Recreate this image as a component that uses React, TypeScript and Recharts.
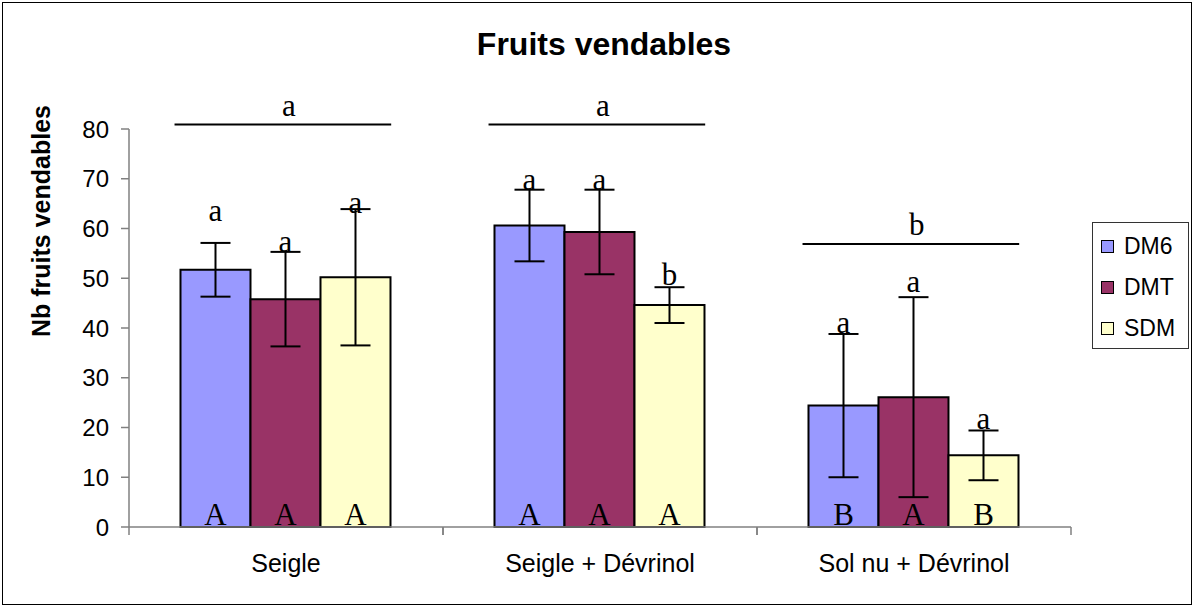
import { BarChart, Bar, ErrorBar, LabelList, ReferenceArea, XAxis, YAxis } from "recharts"

const categories = ["Seigle", "Seigle + Dévrinol", "Sol nu + Dévrinol"]
const seriesNames = ["DM6", "DMT", "SDM"]

const dm6 = [51.7, 60.6, 24.4]
const dm6Err = [5.4, 7.2, 14.4]
const dmt = [45.8, 59.3, 26.1]
const dmtErr = [9.5, 8.5, 20.1]
const sdm = [50.2, 44.6, 14.4]
const sdmErr = [13.7, 3.6, 5.0]

// letters above each bar, and the level (y units) where they sit
const dm6Letters = ["a", "a", "a"]
const dmtLetters = ["a", "a", "a"]
const sdmLetters = ["a", "b", "a"]
const dm6LetterAt = [61.6, 67.8, 39.0]
const dmtLetterAt = [55.3, 67.8, 47.2]
const sdmLetterAt = [63.2, 48.7, 19.6]

// letters at the foot of each bar
const dm6Ranks = ["A", "A", "B"]
const dmtRanks = ["A", "A", "A"]
const sdmRanks = ["A", "A", "B"]

// letter over each group of bars, and the level of its line
const groupLetters = ["a", "a", "b"]
const groupLevels = [80.9, 80.9, 56.9]

const yTicks = [0, 10, 20, 30, 40, 50, 60, 70, 80]

const Y_MAX = 80
const W = 1194
const H = 607
const TOP = 129
const BOTTOM = 80
const LEFT = 129
const RIGHT = 123
const PLOT_H = H - TOP - BOTTOM

const sans = "'Liberation Sans', Arial, sans-serif"
const serif = "'Liberation Serif', 'Times New Roman', serif"

const rows = categories.map((name, i) => ({
  name,
  DM6: dm6[i],
  DM6err: dm6Err[i],
  DMT: dmt[i],
  DMTerr: dmtErr[i],
  SDM: sdm[i],
  SDMerr: sdmErr[i],
}))

const series = [
  { key: "DM6", color: "#9999FF", letters: dm6Letters, letterAt: dm6LetterAt, ranks: dm6Ranks },
  { key: "DMT", color: "#993366", letters: dmtLetters, letterAt: dmtLetterAt, ranks: dmtRanks },
  { key: "SDM", color: "#FFFFCC", letters: sdmLetters, letterAt: sdmLetterAt, ranks: sdmRanks },
]

const ppu = PLOT_H / Y_MAX

function GroupShape(props: any, i: number) {
  const { x, y, width, height } = props
  const bottom = y + height
  const ly = bottom - groupLevels[i] * ppu
  const x1 = x + width * 0.145
  const x2 = x + width * 0.835
  return (
    <g>
      <line x1={x1} x2={x2} y1={ly} y2={ly} stroke="#000" strokeWidth={2} />
      <text x={(x1 + x2) / 2 + 6} y={ly - 9} textAnchor="middle" fontFamily={serif} fontSize={31} fill="#000">
        {groupLetters[i]}
      </text>
      <line x1={x} x2={x} y1={bottom} y2={bottom + 8} stroke="#808080" strokeWidth={1.5} />
      <line x1={x + width} x2={x + width} y1={bottom} y2={bottom + 8} stroke="#808080" strokeWidth={1.5} />
    </g>
  )
}

function App() {
  return (
    <div style={{ position: "absolute", left: 0, top: 0, width: W, height: H, background: "#fff" }}>
      <style>{`body{margin:0}`}</style>
      <div
        style={{
          position: "absolute",
          left: 2,
          top: 2,
          width: 1188,
          height: 601,
          border: "1px solid #000",
        }}
      />
      <div
        style={{
          position: "absolute",
          left: 0,
          width: W,
          top: 24,
          textAlign: "center",
          fontFamily: sans,
          fontWeight: "bold",
          fontSize: 32,
          lineHeight: "40px",
          paddingLeft: 14,
          boxSizing: "border-box",
        }}
      >
        Fruits vendables
      </div>
      <BarChart
        width={W}
        height={H}
        data={rows}
        margin={{ top: TOP, right: RIGHT, bottom: 0, left: 0 }}
        barCategoryGap="16.4%"
        barGap={0}
        style={{ position: "absolute", left: 0, top: 0 }}
      >
        <XAxis
          dataKey="name"
          height={BOTTOM}
          tickLine={false}
          tickSize={0}
          tickMargin={27}
          axisLine={{ stroke: "#808080", strokeWidth: 1.5 }}
          tick={{ fontSize: 25, fill: "#000", fontFamily: sans }}
        />
        <YAxis
          width={LEFT}
          domain={[0, Y_MAX]}
          ticks={yTicks}
          interval={0}
          tickSize={8}
          tickMargin={12}
          axisLine={{ stroke: "#808080", strokeWidth: 1.5 }}
          tickLine={{ stroke: "#808080", strokeWidth: 1.5 }}
          tick={{ fontSize: 24, fill: "#000", fontFamily: sans }}
          label={{
            content: () => (
              <text
                x={41}
                y={221}
                transform="rotate(-90, 41, 221)"
                textAnchor="middle"
                dominantBaseline="central"
                fontFamily={sans}
                fontWeight="bold"
                fontSize={25}
                fill="#000"
              >
                Nb fruits vendables
              </text>
            ),
          }}
        />
        {categories.map((c, i) => (
          <ReferenceArea
            key={c}
            x1={c}
            x2={c}
            fill="none"
            stroke="none"
            ifOverflow="visible"
            shape={(p: any) => GroupShape(p, i)}
          />
        ))}
        {series.map((s) => (
          <Bar key={s.key} dataKey={s.key} fill={s.color} stroke="#000" strokeWidth={2} isAnimationActive={false}>
            <ErrorBar dataKey={`${s.key}err`} width={15} stroke="#000" strokeWidth={2} direction="y" />
            <LabelList
              dataKey={s.key}
              content={(p: any) => {
                const { x, y, width, height, index } = p
                const bottom = y + height
                return (
                  <text
                    x={x + width / 2}
                    y={bottom - 2}
                    textAnchor="middle"
                    fontFamily={serif}
                    fontSize={31}
                    fill="#000"
                  >
                    {s.ranks[index]}
                  </text>
                )
              }}
            />
            <LabelList
              dataKey={s.key}
              content={(p: any) => {
                const { x, y, width, height, index } = p
                const bottom = y + height
                return (
                  <text
                    x={x + width / 2}
                    y={bottom - s.letterAt[index] * ppu}
                    textAnchor="middle"
                    fontFamily={serif}
                    fontSize={31}
                    fill="#000"
                  >
                    {s.letters[index]}
                  </text>
                )
              }}
            />
          </Bar>
        ))}
      </BarChart>
      <div
        style={{
          position: "absolute",
          left: 1092,
          top: 222,
          width: 95,
          height: 125,
          border: "1px solid #333",
          fontFamily: sans,
          fontSize: 23,
        }}
      >
        {series.map((s, i) => (
          <div
            key={s.key}
            style={{ position: "absolute", left: 8, top: 8 + i * 41, height: 30, display: "flex", alignItems: "center" }}
          >
            <span
              style={{
                display: "inline-block",
                width: 11,
                height: 11,
                background: s.color,
                border: "1.5px solid #000",
                marginRight: 10,
              }}
            />
            <span>{seriesNames[i]}</span>
          </div>
        ))}
      </div>
    </div>
  )
}

export default App
